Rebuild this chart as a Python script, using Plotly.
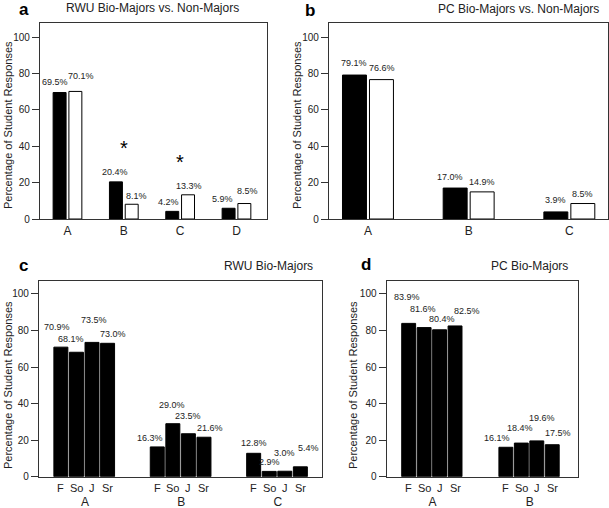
import plotly.graph_objects as go

W, H = 609, 508

# panel a: RWU bio-majors vs non-majors
rwu_cats = ["A", "B", "C", "D"]
rwu_majors = [69.5, 20.4, 4.2, 5.9]
rwu_nonmajors = [70.1, 8.1, 13.3, 8.5]
rwu_sig = ["B", "C"]
rwu_sig_height = [41.8, 34.0]

# panel b: PC bio-majors vs non-majors
pc_cats = ["A", "B", "C"]
pc_majors = [79.1, 17.0, 3.9]
pc_nonmajors = [76.6, 14.9, 8.5]

# panel c: RWU bio-majors by class year
years = ["F", "So", "J", "Sr"]
rwu_year_cats = ["A", "B", "C"]
rwu_F = [70.9, 16.3, 12.8]
rwu_So = [68.1, 29.0, 2.9]
rwu_J = [73.5, 23.5, 3.0]
rwu_Sr = [73.0, 21.6, 5.4]

# panel d: PC bio-majors by class year
pc_year_cats = ["A", "B"]
pc_F = [83.9, 16.1]
pc_So = [81.6, 18.4]
pc_J = [80.4, 19.6]
pc_Sr = [82.5, 17.5]

# hand placed label nudges (px), like the original figure
a_nudge = [[(-5, 11), (-1, 9.5), (-4, 9.7), (-6, 9)],
           [(6, 15), (5, 8), (1, 9), (3, 12.5)]]
b_nudge = [[(0, 12), (-5, 11), (0, 12)],
           [(1, 12), (0, 10), (0, 10)]]
c_nudge = [[(-4, 20), (-7, 9), (0, 10)],
           [(-5, 13), (-1, 19), (0, 9)],
           [(2, 22), (0, 18), (0, 18.5)],
           [(5.5, 9), (6, 9), (8, 19)]]
d_nudge = [[(-1.5, 26), (-9, 9.6)],
           [(-1, 18.6), (-1, 15.4)],
           [(2, 11), (5, 23)],
           [(11.6, 15), (5.6, 12)]]

FONT = "Liberation Sans, Arial, sans-serif"
LINE = "#333333"
TXT = "#222222"


def px_x(p):
    return p / W


def px_y(p):
    return 1 - p / H


fig = go.Figure()
ann = []


def add_bars(n, cats, series, width, offsets, colors, nudges):
    for vals, off, col, nud in zip(series, offsets, colors, nudges):
        fig.add_trace(go.Bar(
            x=cats, y=vals, width=width, offset=off,
            marker=dict(color=col, line=dict(color="black", width=1)),
            xaxis="x%d" % n, yaxis="y%d" % n, showlegend=False, hoverinfo="skip",
        ))
        for i, v in enumerate(vals):
            ann.append(dict(
                x=i + off + width / 2, y=v, xref="x%d" % n, yref="y%d" % n,
                text="%.1f%%" % v, showarrow=False, yanchor="middle",
                xshift=nud[i][0], yshift=nud[i][1],
                font=dict(size=9, color=TXT, family=FONT),
            ))


# a
add_bars(1, rwu_cats, [rwu_majors, rwu_nonmajors], 0.23, [-0.255, 0.025],
         ["black", "white"], a_nudge)
for c, h in zip(rwu_sig, rwu_sig_height):
    ann.append(dict(x=c, y=h, xref="x1", yref="y1", text="*", showarrow=False,
                    yanchor="middle", yshift=-5, font=dict(size=20, color="black", family=FONT)))
# b
add_bars(2, pc_cats, [pc_majors, pc_nonmajors], 0.238, [-0.253, 0.015],
         ["black", "white"], b_nudge)

# c, d
slot, bw = 0.1615, 0.145
year_offsets = [-0.3225 + j * slot for j in range(4)]
add_bars(3, rwu_year_cats, [rwu_F, rwu_So, rwu_J, rwu_Sr], bw, year_offsets,
         ["black"] * 4, c_nudge)
slot_d, bw_d = 0.159, 0.143
year_offsets_d = [-0.3165 + j * slot_d for j in range(4)]
add_bars(4, pc_year_cats, [pc_F, pc_So, pc_J, pc_Sr], bw_d, year_offsets_d,
         ["black"] * 4, d_nudge)

for n, cats, offs, w in [(3, rwu_year_cats, year_offsets, bw), (4, pc_year_cats, year_offsets_d, bw_d)]:
    for i in range(len(cats)):
        for j, yr in enumerate(years):
            ann.append(dict(x=i + offs[j] + w / 2, y=0, xref="x%d" % n, yref="y%d" % n,
                            text=yr, showarrow=False, yanchor="middle", yshift=-11,
                            font=dict(size=11, color=TXT, family=FONT)))

# panel letters, titles, y-axis titles
for letter, x, y in [("a", 24, 10), ("b", 310, 10.5), ("c", 23, 265), ("d", 366, 264)]:
    ann.append(dict(x=px_x(x), y=px_y(y), xref="paper", yref="paper", text="<b>%s</b>" % letter,
                    showarrow=False, xanchor="center", yanchor="middle",
                    font=dict(size=17, color="black", family=FONT)))
for title, x, y in [("RWU Bio-Majors vs. Non-Majors", 152.5, 8.5),
                    ("PC Bio-Majors vs. Non-Majors", 518.5, 8.7),
                    ("RWU Bio-Majors", 268, 266),
                    ("PC Bio-Majors", 529, 265.7)]:
    ann.append(dict(x=px_x(x), y=px_y(y), xref="paper", yref="paper", text=title,
                    showarrow=False, xanchor="center", yanchor="middle",
                    font=dict(size=12, color=TXT, family=FONT)))
for x, y in [(8, 125), (297, 125), (8, 385), (353, 385)]:
    ann.append(dict(x=px_x(x), y=px_y(y), xref="paper", yref="paper",
                    text="Percentage of Student Responses", textangle=-90,
                    showarrow=False, xanchor="center", yanchor="middle",
                    font=dict(size=11, color=TXT, family=FONT)))

axes = {
    1: dict(xd=(40, 267), yd=(23, 219), xr=(-0.488, 3.542), ymax=107.7, stand=0),
    2: dict(xd=(329, 607.5), yd=(23, 219), xr=(-0.387, 2.379), ymax=107.7, stand=0),
    3: dict(xd=(39, 322), yd=(281, 476.7), xr=(-0.477, 2.459), ymax=107.1, stand=14),
    4: dict(xd=(386.7, 578), yd=(281, 476.7), xr=(-0.471, 1.497), ymax=107.1, stand=14),
}
layout_axes = {}
for n, a in axes.items():
    layout_axes["xaxis%d" % n] = dict(
        domain=[px_x(a["xd"][0]), px_x(a["xd"][1])], range=list(a["xr"]),
        type="category", anchor="y%d" % n, showline=True, mirror=True, automargin=False,
        linecolor=LINE, linewidth=1.3, ticks="", showgrid=False, zeroline=False,
        ticklabelstandoff=a["stand"], tickfont=dict(size=12, color=TXT, family=FONT),
    )
    layout_axes["yaxis%d" % n] = dict(
        domain=[px_y(a["yd"][1]), px_y(a["yd"][0])], range=[0, a["ymax"]],
        anchor="x%d" % n, showline=True, mirror=True, automargin=False,
        linecolor=LINE, linewidth=1.3,
        tickvals=[0, 20, 40, 60, 80, 100], ticks="outside", ticklen=7, tickwidth=1,
        tickcolor=LINE, showgrid=False, zeroline=False,
        tickfont=dict(size=10, color=TXT, family=FONT),
    )

fig.update_layout(
    width=W, height=H, autosize=False,
    margin=dict(l=0, r=0, t=0, b=0),
    paper_bgcolor="white", plot_bgcolor="white",
    barmode="overlay", annotations=ann,
    font=dict(family=FONT, color=TXT),
    **layout_axes,
)

# the page's default body margin would push the figure off the window
fig.write_html("out.html", config={"displayModeBar": False},
               post_script="document.body.style.margin='0';")
